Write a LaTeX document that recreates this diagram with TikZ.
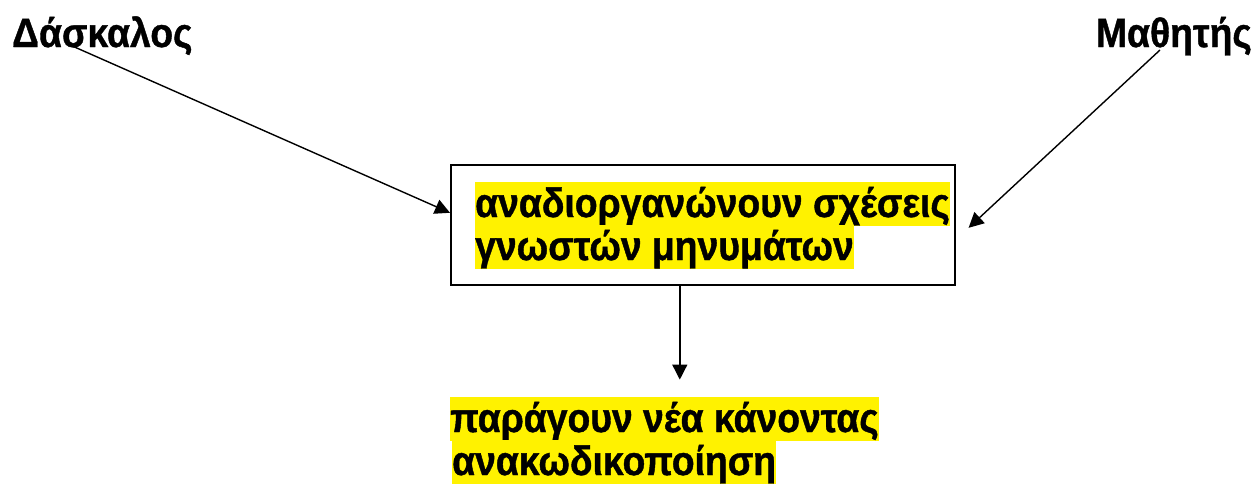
\documentclass[tikz,border=0pt]{standalone}
\usepackage{fontspec}
\setmainfont{Liberation Sans}[FakeStretch=0.91,BoldFeatures={FakeBold=1}]
\usetikzlibrary{arrows.meta,calc}
\begin{document}
\begin{tikzpicture}[x=1pt,y=-1pt,
  lbl/.style={font=\fontsize{41}{47}\selectfont\bfseries, inner sep=0pt},
  hl/.style={lbl, fill=yellow, text height=35pt, text depth=8.5pt},
  arr/.style={-{Triangle[length=15pt,width=15pt]}, line width=1.4pt}]
\useasboundingbox (0,0) rectangle (1256,483);
\node[lbl, anchor=base west] (dask) at (12,47) {Δάσκαλος};
\node[lbl, anchor=base east] (math) at (1252,47) {Μαθητής};
\node[draw, line width=1.6pt, minimum width=504pt, minimum height=120pt, anchor=north west, inner sep=0pt] (box) at (450,164) {};
\node[hl, anchor=base west] (l1) at (475,217) {αναδιοργανώνουν σχέσεις};
\node[hl, anchor=base west] (l2) at (475,260) {γνωστών μηνυμάτων};
\node[hl, anchor=base west] (r1) at (450,432) {παράγουν νέα κάνοντας};
\node[hl, anchor=base west] (r2) at (452,475) {ανακωδικοποίηση};
\coordinate (ds) at (70,45);
\coordinate (ms) at (1160,50);
\draw[arr] (ds) -- ($(box.west)+(0,-12)$);
\draw[arr] (ms) -- ($(box.east)+(13,3)$);
\draw[arr] ($(box.south)+(-23,0)$) -- ($(box.south)+(-23,94)$);
\end{tikzpicture}
\end{document}
